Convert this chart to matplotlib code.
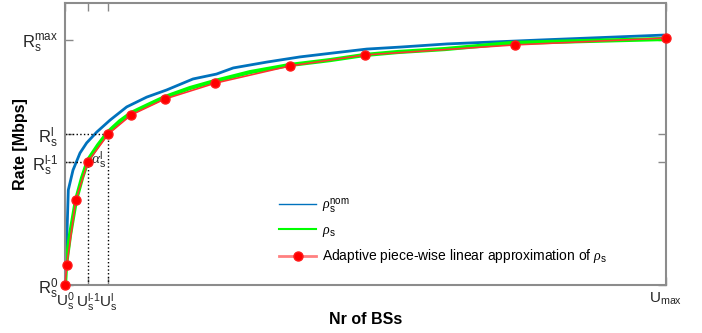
import matplotlib
matplotlib.use("Agg")
import matplotlib.pyplot as plt

plt.rcParams['font.family'] = ['Liberation Sans', 'DejaVu Sans']
plt.rcParams['mathtext.fontset'] = 'custom'
plt.rcParams['mathtext.rm'] = 'Liberation Sans'
plt.rcParams['mathtext.it'] = 'Liberation Serif:italic'
plt.rcParams['mathtext.bf'] = 'Liberation Sans:bold'

# nominal rate (blue)
nom_x = [0, 1.7, 3.3, 5.5, 13.3, 25, 36, 52.7, 74.9, 102.7, 136, 169, 213, 252,
         280, 336, 391, 446, 502, 557, 636, 790, 995]
nom_y = [0, 14.3, 21.2, 38.8, 46.9, 53.9, 58, 62.4, 67.3, 72.7, 76.7, 79.6, 84.1,
         86.1, 88.6, 91, 93.1, 94.7, 96.3, 97.1, 98.4, 100, 102]

# actual rate (green)
rho_x = [0, 1.7, 8.3, 18.3, 28.3, 38.3, 55, 71.5, 91.5, 110, 138, 166, 208, 250,
         308, 374, 441, 499, 554, 632, 745, 869, 997]
rho_y = [0, 8.2, 20.4, 34.7, 43.7, 51, 57.1, 62.4, 66.9, 70.2, 73.5, 76.7, 80.4,
         83.3, 86.9, 89.8, 91.8, 93.9, 95.1, 96.3, 98.8, 99.6, 100.4]

# piece-wise linear approximation breakpoints (red)
pwl_x = [0, 3, 18, 38, 72, 110, 166, 250, 374, 499, 749, 1000]
pwl_y = [0, 8.2, 34.7, 50.2, 61.6, 69.4, 75.9, 82.4, 89.4, 93.9, 98.0, 100.8]

u_max = 1000
u_prev, u_l = 38, 72
r_prev, r_l, r_max = 50.2, 61.6, 100

xticks = [0, u_prev, u_l, u_max]
xlabels = [r'$\mathregular{U_s^0}$', r'$\mathregular{U_s^{\text{l-1}}}$',
           r'$\mathregular{U_s^l}$', r'$\mathregular{U_{max}}$']
yticks = [0, r_prev, r_l, r_max]
ylabels = [r'$\mathregular{R_s^0}$', r'$\mathregular{R_s^{\text{l-1}}}$',
           r'$\mathregular{R_s^l}$', r'$\mathregular{R_s^{max}}$']

fig = plt.figure(figsize=(7.02, 3.33), dpi=100)
ax = fig.add_axes([0.0926, 0.144, 0.8561, 0.847])

ax.plot(nom_x, nom_y, color='#0072BD', lw=2, label=r'$\rho_\mathrm{s}^\mathrm{nom}$')
ax.plot(rho_x, rho_y, color='#00FF00', lw=3, label=r'$\rho_\mathrm{s}$')
ax.plot(pwl_x, pwl_y, color='#FF3333', lw=1.2, marker='o', ms=6.5,
        mfc='#FF0000', mec='#FF1a1a', clip_on=False, zorder=5,
        label=r'Adaptive piece-wise linear approximation of $\rho_\mathrm{s}$')

# guide lines to the l-1 and l breakpoints
ax.plot([0, u_prev], [r_prev, r_prev], ls=':', color='k', lw=1)
ax.plot([0, u_l], [r_l, r_l], ls=':', color='k', lw=1)
ax.plot([u_prev, u_prev], [0, r_prev], ls=':', color='k', lw=1)
ax.plot([u_l, u_l], [0, r_l], ls=':', color='k', lw=1)
ax.text(44, 51, r'$\alpha_\mathrm{s}^\mathrm{l}$', fontsize=11, color='#262626',
        va='center', ha='left')

ax.set_xlim(0, u_max)
ax.set_ylim(0, 115.1)
ax.set_xticks(xticks)
ax.set_xticklabels(xlabels)
ax.set_yticks(yticks)
ax.set_yticklabels(ylabels)
ax.tick_params(direction='in', length=6, width=1, colors='#888888',
               labelcolor='#262626', labelsize=12, top=True, right=True)
ax.tick_params(axis='x', pad=4, labelsize=11)
ax.tick_params(axis='y', pad=5)
for s in ax.spines.values():
    s.set_color('#8c8c8c')
    s.set_linewidth(1.5)

ax.set_xlabel('Nr of BSs', fontsize=11.5, fontweight='bold')
ax.set_ylabel('Rate [Mbps]', fontsize=11.5, fontweight='bold')
ax.xaxis.set_label_coords(0.5, -0.095)
ax.yaxis.set_label_coords(-0.062, 0.5)

leg = ax.legend(loc='upper left', bbox_to_anchor=(0.335, 0.36), frameon=False,
                fontsize=10, handlelength=2.7, handletextpad=0.4, labelspacing=0.6)
lw_leg = [1, 1.5, 2]
for ln, w in zip(leg.get_lines(), lw_leg):
    ln.set_linewidth(w)
leg.get_lines()[2].set_color('#FF8080')

fig.savefig('out.png', dpi=100)
